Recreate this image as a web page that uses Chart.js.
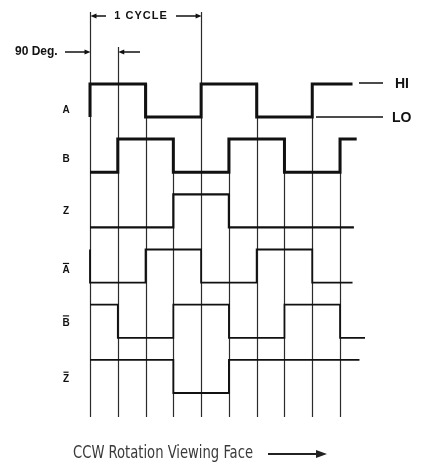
<!DOCTYPE html>
<html>
<head>
<meta charset="utf-8">
<script src="https://cdn.jsdelivr.net/npm/chart.js@4/dist/chart.umd.min.js"></script>
<style>
  html, body { margin: 0; padding: 0; background: #fff; }
  canvas { display: block; }
</style>
</head>
<body>
<canvas id="timing" width="422" height="466"></canvas>
<script>
// quarter-cycle steps (90 deg each)
const quarterTicks = [0, 1, 2, 3, 4, 5, 6, 7, 8, 9];

const signalNames = ['A', 'B', 'Z', 'A', 'B', 'Z'];
const signalInverted = [false, false, false, true, true, true];

// logic level held from each tick to the next (1 = HI, 0 = LO)
const stateA    = [1, 1, 0, 0, 1, 1, 0, 0, 1, 1];
const stateB    = [0, 1, 1, 0, 0, 1, 1, 0, 0, 1];
const stateZ    = [0, 0, 0, 1, 1, 0, 0, 0, 0, 0];
const stateNotA = [0, 0, 1, 1, 0, 0, 1, 1, 0, 0];
const stateNotB = [1, 0, 0, 1, 1, 0, 0, 1, 1, 0];
const stateNotZ = [1, 1, 1, 0, 0, 1, 1, 1, 1, 1];

// level just before t=0, and where each trace stops
const startLevels = [0, 0, 0, 1, 1, 1];
const traceEnds = [9.45, 9.6, 9.5, 9.45, 9.9, 9.7];

const levelLabels = ['HI', 'LO'];
const cycleLabel = '1 CYCLE';
const phaseLabel = '90 Deg.';
const footerLabel = 'CCW Rotation Viewing Face';

const allStates = [stateA, stateB, stateZ, stateNotA, stateNotB, stateNotZ];

// layout: each row is 1 unit tall on the y scale, HI sits 0.6 above LO
const ROW_COUNT = 6;
const SWING = 0.6;
function levelValue(row, level) {
    return (ROW_COUNT - 1 - row) + level * SWING;
}

const lineWidths = [3, 3, 2.2, 1.8, 1.7, 1.8];

const datasets = allStates.map((states, row) => {
    const pts = [{x: quarterTicks[0], y: levelValue(row, startLevels[row])}];
    quarterTicks.forEach((t, i) => pts.push({x: t, y: levelValue(row, states[i])}));
    pts.push({x: traceEnds[row], y: levelValue(row, states[states.length - 1])});
    return {
        label: signalNames[row] + (signalInverted[row] ? '\u0305' : ''),
        data: pts,
        borderColor: '#111',
        borderWidth: lineWidths[row],
        stepped: true,
        pointRadius: 0,
        borderJoinStyle: 'miter',
        borderCapStyle: 'butt',
        fill: false,
    };
});

function arrow(ctx, xFrom, y, xTo, len, half) {
    const dir = Math.sign(xTo - xFrom);
    ctx.beginPath();
    ctx.moveTo(xFrom, y);
    ctx.lineTo(xTo - dir * len * 0.5, y);
    ctx.stroke();
    ctx.beginPath();
    ctx.moveTo(xTo, y);
    ctx.lineTo(xTo - dir * len, y - half);
    ctx.lineTo(xTo - dir * len, y + half);
    ctx.closePath();
    ctx.fill();
}

const whiteBg = {
    id: 'whiteBg',
    beforeDraw(chart) {
        const ctx = chart.ctx;
        ctx.save();
        ctx.fillStyle = '#fff';
        ctx.fillRect(0, 0, chart.width, chart.height);
        ctx.restore();
    }
};

// vertical phase lines behind the traces
const phaseLines = {
    id: 'phaseLines',
    beforeDatasetsDraw(chart) {
        const {ctx, scales: {x, y}} = chart;
        const bottom = 417;
        ctx.save();
        ctx.strokeStyle = '#2b2b2b';
        ctx.lineWidth = 1.2;
        quarterTicks.forEach(t => {
            let top;
            if (t === 0 || t === 4) top = 12;
            else if (t === 1) top = 47;
            else if (t % 2 === 0) top = y.getPixelForValue(levelValue(0, 1));
            else top = y.getPixelForValue(levelValue(1, 1));
            const px = Math.round(x.getPixelForValue(t)) + 0.5;
            ctx.beginPath();
            ctx.moveTo(px, top);
            ctx.lineTo(px, bottom);
            ctx.stroke();
        });
        ctx.restore();
    }
};

const annotations = {
    id: 'annotations',
    afterDatasetsDraw(chart) {
        const {ctx, scales: {x, y}} = chart;
        ctx.save();
        ctx.fillStyle = '#111';
        ctx.strokeStyle = '#111';
        ctx.textBaseline = 'middle';

        // row names
        const labelLift = [0.13, 0.24, 0.29, 0.22, 0.27, 0.25];
        ctx.font = 'bold 10px "Liberation Sans", Arial, sans-serif';
        ctx.textAlign = 'center';
        signalNames.forEach((name, row) => {
            const cy = y.getPixelForValue(levelValue(row, 0) + labelLift[row]);
            const cx = 66;
            ctx.fillText(name, cx, cy);
            if (signalInverted[row]) {
                const w = ctx.measureText(name).width;
                ctx.lineWidth = 1.2;
                ctx.beginPath();
                ctx.moveTo(cx - w / 2 + 0.5, cy - 7);
                ctx.lineTo(cx + w / 2 - 0.5, cy - 7);
                ctx.stroke();
            }
        });

        // HI / LO legend on channel A
        const hiY = y.getPixelForValue(levelValue(0, 1)) - 1;
        const loY = y.getPixelForValue(levelValue(0, 0));
        ctx.lineWidth = 1.5;
        ctx.beginPath();
        ctx.moveTo(359, hiY); ctx.lineTo(383, hiY);
        ctx.moveTo(316, loY); ctx.lineTo(383, loY);
        ctx.stroke();
        ctx.font = 'bold 14px "Liberation Sans", Arial, sans-serif';
        ctx.textAlign = 'left';
        ctx.fillText(levelLabels[0], 395, hiY + 1);
        ctx.fillText(levelLabels[1], 392, loY + 1);

        // 1 CYCLE span
        const x0 = x.getPixelForValue(0);
        const x1 = x.getPixelForValue(1);
        const x4 = x.getPixelForValue(4);
        ctx.lineWidth = 1.5;
        arrow(ctx, 106, 16, x0 + 0.5, 6, 2.5);
        arrow(ctx, 176, 16, x4 + 0.5, 6, 2.5);
        ctx.font = 'bold 11px "Liberation Sans", Arial, sans-serif';
        ctx.letterSpacing = '1px';
        ctx.textAlign = 'center';
        ctx.fillText(cycleLabel, 141, 16);
        ctx.letterSpacing = '0px';

        // 90 Deg. span
        arrow(ctx, 65, 52, x0 + 0.5, 6, 2.5);
        arrow(ctx, 140, 52, x1 + 0.5, 6, 2.5);
        ctx.font = 'bold 12px "Liberation Sans", Arial, sans-serif';
        ctx.textAlign = 'left';
        ctx.fillText(phaseLabel, 15, 52);

        // footer
        ctx.fillStyle = '#3a3a3a';
        ctx.font = '17px "Liberation Sans Narrow", "DejaVu Sans Condensed", "Roboto Condensed", sans-serif';
        const tw = ctx.measureText(footerLabel).width;
        const sx = 180 / tw;
        ctx.save();
        ctx.translate(73, 454);
        ctx.scale(sx, 1);
        ctx.fillText(footerLabel, 0, 0);
        ctx.restore();
        ctx.strokeStyle = '#222';
        ctx.fillStyle = '#222';
        ctx.lineWidth = 2;
        arrow(ctx, 268, 454, 327, 11, 4);

        ctx.restore();
    }
};

new Chart(document.getElementById('timing'), {
    type: 'line',
    data: { datasets },
    options: {
        responsive: false,
        animation: false,
        devicePixelRatio: 1,
        layout: { padding: 0 },
        plugins: {
            legend: { display: false },
            tooltip: { enabled: false },
        },
        scales: {
            x: { type: 'linear', display: false, min: -90 / 27.78, max: (422 - 90) / 27.78 },
            y: { type: 'linear', display: false, min: -73 / 55.2, max: 393 / 55.2 },
        },
    },
    plugins: [whiteBg, phaseLines, annotations],
});
</script>
</body>
</html>
